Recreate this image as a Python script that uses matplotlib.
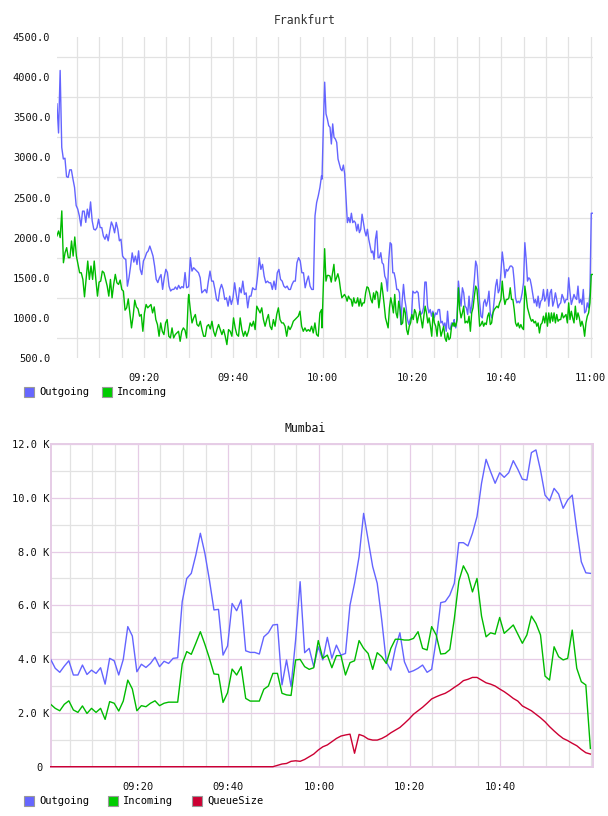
import matplotlib
matplotlib.use('Agg')
import matplotlib.pyplot as plt
from matplotlib.patches import Rectangle
from matplotlib.ticker import FixedLocator, MultipleLocator
import numpy as np

plt.rcParams['font.family'] = ['DejaVu Sans Mono']
plt.rcParams['font.size'] = 7.5

# ---- Frankfurt (minutes after 09:00, read in four blocks) ----
fra_spans = [(0.5, 29.9), (30.0, 59.75), (59.85, 89.46), (89.5, 120.44)]

fra_out_1 = [3667, 3304, 4083, 3125, 2980, 2990, 2760, 2750, 2845, 2845, 2730, 2625, 2400, 2355,
             2270, 2145, 2330, 2330, 2190, 2355, 2250, 2445, 2210, 2105, 2095, 2125, 2230, 2125,
             2125, 2020, 1980, 2040, 1960, 2085, 2195, 2145, 2060, 2190, 2105, 1960, 1980, 1770,
             1740, 1730, 1395, 1500, 1645, 1810, 1695, 1770, 1665, 1835, 1605, 1540, 1710, 1750,
             1810, 1835, 1895, 1835, 1770, 1645, 1480, 1440, 1500, 1540, 1355, 1500, 1605, 1565,
             1395, 1335, 1355, 1355, 1385, 1355, 1405, 1365, 1390, 1375, 1565, 1375, 1385]
fra_in_1 = [2021, 2083, 2000, 2333, 1687, 1812, 1875, 1750, 1750, 1958, 1770, 2008, 1770, 1667,
            1562, 1562, 1479, 1262, 1479, 1708, 1479, 1646, 1479, 1708, 1479, 1271, 1446, 1458,
            1583, 1562, 1479, 1396, 1271, 1479, 1250, 1417, 1542, 1437, 1417, 1471, 1354, 1333,
            1096, 1125, 1237, 1062, 875, 1021, 1221, 1137, 1112, 1021, 1042, 833, 1062, 1167,
            1125, 1146, 1167, 1062, 1137, 979, 917, 771, 937, 833, 792, 937, 979, 771, 750, 875,
            750, 792, 812, 833, 708, 833, 875, 846, 750, 1229]

fra_out_2 = [1396, 1750, 1583, 1625, 1604, 1583, 1562, 1500, 1312, 1333, 1354, 1312, 1458, 1583,
             1458, 1458, 1354, 1229, 1208, 1354, 1417, 1354, 1229, 1250, 1146, 1271, 1167, 1250,
             1437, 1292, 1167, 1375, 1312, 1458, 1292, 1312, 1125, 1271, 1271, 1375, 1354, 1354,
             1521, 1750, 1604, 1667, 1521, 1437, 1458, 1437, 1437, 1354, 1458, 1354, 1562, 1604,
             1479, 1458, 1396, 1375, 1396, 1354, 1354, 1417, 1458, 1458, 1687, 1750, 1708, 1562,
             1562, 1375, 1458, 1521, 1396, 1354, 1354, 2271, 2437, 2521, 2625, 2771]
fra_in_2 = [1292, 1100, 937, 1000, 1042, 917, 896, 958, 854, 771, 771, 896, 917, 862, 958, 833,
            771, 854, 917, 854, 792, 854, 771, 667, 854, 833, 771, 1000, 875, 792, 771, 1000, 854,
            771, 833, 771, 833, 937, 896, 958, 854, 1146, 1104, 1062, 1125, 979, 896, 979, 1042,
            896, 854, 979, 896, 1042, 1125, 979, 937, 937, 896, 771, 896, 854, 896, 958, 979,
            1000, 1021, 1083, 896, 833, 875, 833, 854, 833, 896, 812, 937, 792, 771, 1062, 1104]

fra_out_3 = [2729, 3396, 3937, 3542, 3479, 3396, 3375, 3167, 3417, 3250, 3229, 3187, 2979, 2917,
             2854, 2833, 2904, 2792, 2479, 2187, 2250, 2187, 2304, 2187, 2208, 2187, 2083, 2167,
             2062, 2104, 2292, 2187, 2083, 2021, 2104, 1979, 1896, 1812, 1833, 1729, 1979, 2083,
             1750, 1750, 1812, 1687, 1667, 1521, 1479, 1333, 1729, 1937, 1917, 1562, 1562, 1479,
             1354, 1354, 1312, 917, 1208, 1417, 1229, 1125, 979, 917, 979, 1021, 1333, 1312, 1312,
             1333, 1312, 1125, 1042, 1062, 1125, 1446, 1446, 1146, 1062, 1104, 1021, 1083, 1000,
             1062, 1042, 1104, 1104, 937, 958, 896, 937, 833, 1083, 875, 854, 937, 896, 979]
fra_in_3 = [875, 1396, 1862, 1458, 1529, 1529, 1521, 1446, 1562, 1667, 1458, 1500, 1550, 1479,
            1354, 1250, 1271, 1292, 1262, 1208, 1271, 1237, 1229, 1146, 1250, 1187, 1187, 1250,
            1146, 1237, 1146, 1187, 1187, 1312, 1387, 1375, 1312, 1229, 1187, 1312, 1229, 1333,
            1312, 1125, 1262, 1437, 1312, 1167, 1000, 937, 875, 1125, 1250, 1167, 1062, 1292,
            1062, 1000, 1208, 1104, 917, 937, 1125, 1062, 854, 792, 896, 937, 1042, 979, 1104,
            1062, 937, 1021, 1083, 979, 875, 1021, 1146, 1062, 937, 1000, 896, 771, 1062, 937,
            896, 771, 958, 896, 771, 833, 896, 750, 708, 812, 729, 750, 896, 937, 896]

fra_out_4 = [917, 875, 1000, 1458, 1271, 1146, 1375, 1312, 1146, 1125, 1042, 1271, 1062, 1146,
             1292, 1479, 1708, 1646, 1396, 1187, 1021, 1000, 1187, 1229, 1146, 1208, 1333, 1062,
             1000, 1062, 1229, 1396, 1479, 1312, 1354, 1562, 1821, 1687, 1500, 1604, 1583, 1612,
             1646, 1646, 1625, 1458, 1250, 1187, 1208, 1187, 1229, 1312, 1437, 1937, 1729, 1458,
             1500, 1479, 1396, 1292, 1187, 1229, 1146, 1271, 1125, 1208, 1229, 1354, 1208, 1250,
             1354, 1146, 1312, 1354, 1146, 1208, 1312, 1229, 1125, 1167, 1187, 1292, 1250, 1187,
             1229, 1229, 1500, 1312, 1167, 1229, 1292, 1250, 1229, 1396, 1187, 1229, 1167, 1354,
             1062, 1083, 1187, 1125, 1312, 2304, 2304]
fra_in_4 = [937, 896, 979, 1375, 1104, 1000, 1062, 1146, 937, 958, 937, 1021, 833, 1062, 1125,
            1271, 1396, 1354, 1146, 896, 917, 958, 896, 937, 917, 1021, 1062, 917, 937, 1062,
            1104, 1125, 1146, 1125, 1187, 1229, 1458, 1271, 1167, 1229, 1229, 1250, 1375, 1229,
            1229, 1104, 937, 896, 937, 875, 917, 875, 854, 1396, 1271, 1125, 1062, 1000, 958,
            979, 937, 958, 896, 937, 812, 917, 937, 1021, 937, 1062, 896, 1062, 937, 1062, 958,
            1062, 937, 1042, 958, 979, 979, 1062, 1000, 1021, 1042, 937, 1187, 979, 1083, 1000,
            937, 1146, 979, 1062, 1000, 896, 958, 896, 771, 937, 1021, 1062, 1187, 1541, 1541]

fra_ticks = [500.0, 1000.0, 1500.0, 2000.0, 2500.0, 3000.0, 3500.0, 4000.0, 4500.0]
fra_time_labels = ['09:20', '09:40', '10:00', '10:20', '10:40', '11:00']

# ---- Mumbai (one sample per minute, values in thousands) ----
mum_start = 0.82
mum_out_k = [3.99, 3.66, 3.51, 3.74, 3.94, 3.41, 3.41, 3.78, 3.43, 3.59, 3.47, 3.68, 3.07, 4.03,
             3.94, 3.41, 3.99, 5.21, 4.86, 3.53, 3.81, 3.69, 3.84, 4.07, 3.72, 3.92, 3.84, 4.03,
             4.05, 6.14, 7.00, 7.19, 7.87, 8.68, 7.93, 6.94, 5.83, 5.85, 4.15, 4.49, 6.07, 5.80,
             6.20, 4.31, 4.25, 4.25, 4.19, 4.83, 4.98, 5.27, 5.29, 3.04, 3.97, 2.98, 4.70,
             6.88, 4.24, 4.40, 3.72, 4.46, 3.97, 4.81, 4.03, 4.52, 4.15, 4.21, 6.01, 6.82, 7.81,
             9.42, 8.43, 7.44, 6.82, 5.45, 3.90, 3.59, 4.40, 4.98, 3.90, 3.51, 3.57, 3.66, 3.78,
             3.51, 3.62, 4.71, 6.10, 6.14, 6.38, 6.82, 8.33, 8.33, 8.21, 8.68, 9.30, 10.54, 11.43,
             10.97, 10.54, 10.93, 10.76, 10.93, 11.38, 11.06, 10.69, 10.66, 11.68, 11.78, 11.03,
             10.10, 9.89, 10.35, 10.14, 9.61, 9.92, 10.10, 8.80, 7.62, 7.21, 7.19]
mum_in_k = [2.32, 2.17, 2.08, 2.32, 2.45, 2.11, 2.02, 2.26, 1.98, 2.17, 2.02, 2.17, 1.76, 2.42,
            2.36, 2.07, 2.44, 3.22, 2.89, 2.08, 2.27, 2.23, 2.36, 2.45, 2.27, 2.36, 2.40, 2.40,
            2.40, 3.82, 4.28, 4.18, 4.59, 5.02, 4.55, 4.03, 3.45, 3.43, 2.39, 2.75, 3.63, 3.41,
            3.72, 2.54, 2.44, 2.44, 2.44, 2.88, 3.00, 3.47, 3.47, 2.73, 2.67, 2.65, 3.97,
            3.99, 3.72, 3.62, 3.68, 4.69, 4.03, 4.15, 3.68, 4.13, 4.13, 3.41, 3.87, 3.94, 4.69,
            4.40, 4.21, 3.62, 4.24, 4.09, 3.84, 4.40, 4.74, 4.74, 4.71, 4.71, 4.77, 5.02, 4.40,
            4.34, 5.21, 4.90, 4.19, 4.21, 4.36, 5.50, 6.90, 7.47, 7.15, 6.50, 7.00, 5.60, 4.83,
            4.98, 4.93, 5.55, 4.96, 5.11, 5.27, 4.93, 4.59, 4.90, 5.60, 5.33, 4.90, 3.37, 3.22,
            4.46, 4.09, 3.97, 4.03, 5.08, 3.66, 3.16, 3.04, 0.68]
mum_queue_k = [0, 0, 0, 0, 0, 0, 0, 0, 0, 0, 0, 0, 0, 0, 0, 0, 0, 0, 0, 0, 0, 0, 0, 0, 0,
               0, 0, 0, 0, 0, 0, 0, 0, 0, 0, 0, 0, 0, 0, 0, 0, 0, 0, 0, 0, 0, 0, 0, 0, 0,
               0.05, 0.10, 0.12, 0.20, 0.22,
               0.20, 0.27, 0.37, 0.47, 0.62, 0.74, 0.81, 0.93, 1.05, 1.14, 1.18, 1.21, 0.50,
               1.20, 1.14, 1.03, 0.99, 0.99, 1.05, 1.14, 1.26, 1.36, 1.46, 1.61, 1.77, 1.95,
               2.08, 2.21, 2.36, 2.52, 2.60, 2.67, 2.73, 2.83, 2.95, 3.06, 3.20, 3.25, 3.32,
               3.32, 3.22, 3.12, 3.07, 3.00, 2.89, 2.79, 2.67, 2.54, 2.44, 2.26, 2.17, 2.08,
               1.95, 1.82, 1.67, 1.49, 1.33, 1.18, 1.05, 0.97, 0.87, 0.78, 0.64, 0.52, 0.47]
mum_ticks_k = [0, 2, 4, 6, 8, 10, 12]
mum_time_labels = ['09:20', '09:40', '10:00', '10:20', '10:40']

BLUE = '#6464ff'
GREEN = '#00bb00'
RED = '#cc0033'
W, H = 608, 816


def minutes(label):
    h, m = label.split(':')
    return (int(h) - 9) * 60 + int(m)


def join(blocks, spans):
    t = np.concatenate([np.linspace(a, b, len(v)) for v, (a, b) in zip(blocks, spans)])
    return t, np.concatenate([np.array(v, float) for v in blocks])


def box(x0, y0, x1, y1):
    return [x0 / W, 1 - y1 / H, (x1 - x0) / W, (y1 - y0) / H]


def legend(items, y):
    for x, color, text in items:
        fig.add_artist(Rectangle((x / W, 1 - (y + 5) / H), 10 / W, 10 / H,
                                 transform=fig.transFigure, facecolor=color,
                                 edgecolor='#999999', lw=0.8))
        fig.text((x + 15) / W, 1 - y / H, text, ha='left', va='center', fontsize=7.5)


fig = plt.figure(figsize=(6.08, 8.16), dpi=100)

# Frankfurt
ax1 = fig.add_axes(box(57.3, 37, 593, 358))
t_out, v_out = join([fra_out_1, fra_out_2, fra_out_3, fra_out_4], fra_spans)
t_in, v_in = join([fra_in_1, fra_in_2, fra_in_3, fra_in_4], fra_spans)
ax1.plot(t_out, v_out, color=BLUE, lw=1.0, zorder=3)
ax1.plot(t_in, v_in, color=GREEN, lw=1.0, zorder=3)
ax1.set_xlim(0.58, 120.53)
ax1.set_ylim(500, 4500)
ax1.set_yticks(fra_ticks)
ax1.set_yticklabels(['%.1f' % v for v in fra_ticks])
ax1.yaxis.set_minor_locator(FixedLocator([v + 250 for v in fra_ticks[:-1]]))
ax1.set_xticks([minutes(s) for s in fra_time_labels])
ax1.set_xticklabels(fra_time_labels)
ax1.xaxis.set_minor_locator(MultipleLocator(5))
ax1.grid(True, axis='x', which='both', color='#e2e2e2', lw=0.9)
ax1.grid(True, axis='y', which='minor', color='#e2e2e2', lw=0.9)
ax1.tick_params(which='both', length=0, labelsize=7.5, labelcolor='#111111')
ax1.tick_params(axis='y', pad=5)
ax1.tick_params(axis='x', pad=11)
ax1.set_axisbelow(True)
for s in ax1.spines.values():
    s.set_visible(False)
fig.text(305 / W, 1 - 20.7 / H, 'Frankfurt', ha='center', va='center', fontsize=8.3,
         color='#333333')
legend([(24, '#6666ff', 'Outgoing'), (102, '#00cc00', 'Incoming')], 392)

# Mumbai
PINK = '#e6cce6'
ax2 = fig.add_axes(box(50.7, 444, 593, 766.7))
t_m = mum_start + np.arange(len(mum_out_k))
ax2.plot(t_m, mum_out_k, color=BLUE, lw=1.0, zorder=3)
ax2.plot(t_m, mum_in_k, color=GREEN, lw=1.0, zorder=3)
ax2.plot(t_m, mum_queue_k, color=RED, lw=1.0, zorder=4, clip_on=False)
ax2.set_xlim(0.82, 120.4)
ax2.set_ylim(0, 12)
ax2.set_yticks(mum_ticks_k)
ax2.set_yticklabels(['0 ' if v == 0 else '%.1f K' % v for v in mum_ticks_k])
ax2.yaxis.set_minor_locator(MultipleLocator(1))
ax2.set_xticks([minutes(s) for s in mum_time_labels])
ax2.set_xticklabels(mum_time_labels)
ax2.xaxis.set_minor_locator(MultipleLocator(5))
ax2.grid(True, which='minor', color='#e2e2e2', lw=0.9)
ax2.grid(True, which='major', color=PINK, lw=0.9)
ax2.tick_params(which='both', length=0, labelsize=7.5, labelcolor='#111111')
ax2.tick_params(axis='y', pad=1)
ax2.tick_params(axis='x', pad=11)
ax2.set_axisbelow(True)
for s in ax2.spines.values():
    s.set_color(PINK)
    s.set_linewidth(1.4)
fig.text(305 / W, 1 - 428.3 / H, 'Mumbai', ha='center', va='center', fontsize=8.3,
         color='#111111')
legend([(24, '#6666ff', 'Outgoing'), (108, '#00cc00', 'Incoming'),
        (192, RED, 'QueueSize')], 800.7)

fig.savefig('out.png', dpi=100)
